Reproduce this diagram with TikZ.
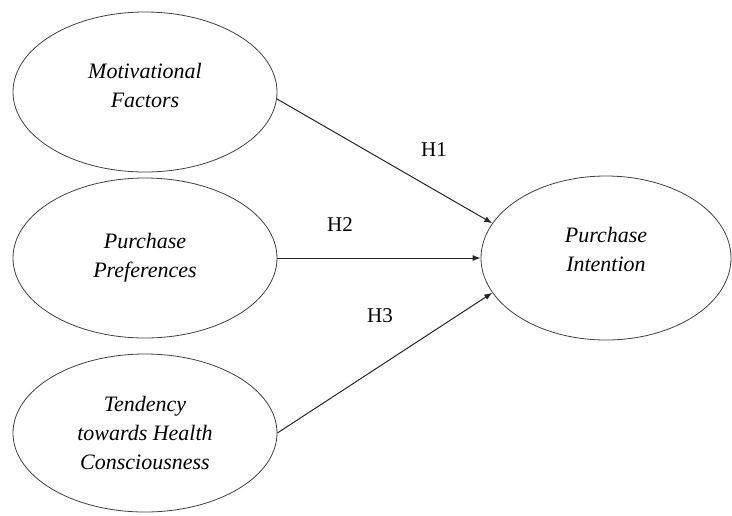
\documentclass[tikz,border=0pt]{standalone}
\usepackage{fontspec}
\setmainfont{Liberation Serif}
\usetikzlibrary{arrows.meta,shapes.geometric}
\begin{document}
\begin{tikzpicture}[x=1pt,y=-1pt,
  construct/.style={ellipse,draw=black!75,line width=0.8pt,inner sep=0pt,
    minimum width=264pt,minimum height=160pt,align=center,
    font=\itshape\fontsize{22}{29}\selectfont},
  captext/.style={align=center,font=\itshape\fontsize{22}{29}\selectfont},
  path/.style={draw=black!85,line width=1pt,-{Latex[length=8pt,width=6pt]}},
  hyp/.style={font=\fontsize{21}{24}\selectfont}]
\useasboundingbox (0,0) rectangle (732,515);
\node[construct,label={[captext,yshift=7pt]center:Motivational\\Factors}] (m) at (145,92) {};
\node[construct] (p) at (145,258) {Purchase\\Preferences};
\node[construct,minimum height=158pt] (t) at (145,433) {Tendency\\towards Health\\Consciousness};
\node[construct,minimum width=250pt,minimum height=164pt,
  label={[captext,yshift=9pt]center:Purchase\\Intention}] (pi) at (606,258) {};
\draw[path] (m.-3) -- (pi.163);
\draw[path] (p.east) -- (pi.west);
\draw[path] (t.east) -- (pi.197);
\node[hyp] (h1) at (434,150) {H1};
\node[hyp] (h2) at (340,225) {H2};
\node[hyp] (h3) at (380,316) {H3};
\end{tikzpicture}
\end{document}
